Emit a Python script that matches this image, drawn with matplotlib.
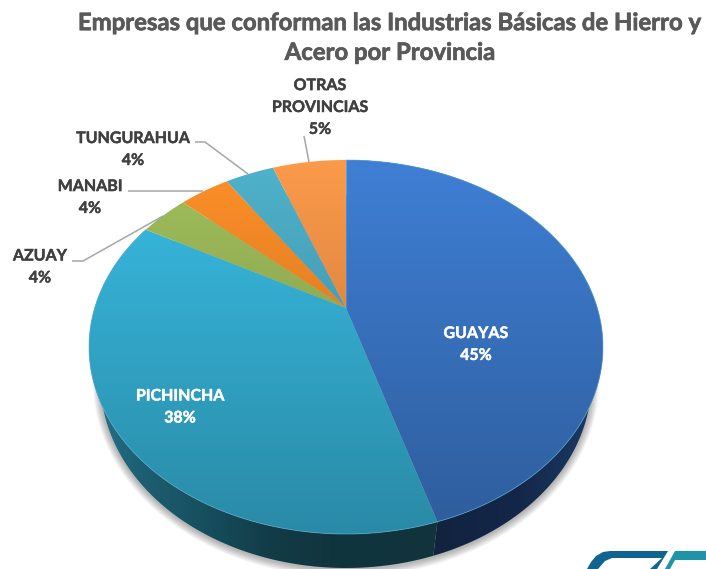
import matplotlib
matplotlib.use('agg')
import matplotlib.pyplot as plt
import matplotlib.patheffects as pe
from matplotlib.colors import to_rgb
from matplotlib.patches import Polygon
import numpy as np

plt.rcParams['font.family'] = ['Lato', 'DejaVu Sans']

# slices, clockwise from twelve o'clock; shares, labels as printed
provinces = ['GUAYAS', 'PICHINCHA', 'AZUAY', 'MANABI', 'TUNGURAHUA', 'OTRAS\nPROVINCIAS']
shares = [45.3, 37.7, 3.75, 3.85, 3.75, 5.65]
percent_labels = ['45%', '38%', '4%', '4%', '4%', '5%']
top_colors = ['#3F7FD5', '#39BDE4', '#A2C05C', '#FF9028', '#4FB2CC', '#FC9A4A']
title = 'Empresas que conforman las Industrias Básicas de Hierro y\nAcero por Provincia'

W, H = 706, 569
# ellipse of the rim in pixels, and how far the apex sits above its middle
cx, cy, rx, ry = 346, 347, 257, 187
apex_up = 39
depth = 34
low_scale = 0.955  # lower rim is further away


def project(theta):
    # perspective of the unit circle, so the apex is off the ellipse centre
    k = apex_up / ry
    u, v = np.cos(np.radians(theta)), np.sin(np.radians(theta))
    den = 1 + k * v
    a = rx * np.sqrt(1 - k ** 2)
    return cx + a * u / den, cy - (ry * v + apex_up) / den


def rim(t1, t2, n=200):
    return np.column_stack(project(np.linspace(t1, t2, n)))


def lower(pts):
    out = pts.copy()
    out[:, 0] = cx + (out[:, 0] - cx) * low_scale
    out[:, 1] = out[:, 1] + depth
    return out


fig = plt.figure(figsize=(W / 100, H / 100), dpi=100)
ax = fig.add_axes([0, 0, 1, 1])

# the pie gives the wedge angles, the drawing is done in perspective below
wedges, _ = ax.pie(shares, startangle=90, counterclock=False)
angles = [(w.theta1, w.theta2) for w in wedges]
for w in wedges:
    w.remove()
ax.set_aspect('auto')
ax.set_xlim(0, W)
ax.set_ylim(H, 0)
ax.axis('off')

# soft shadow under the wall
outline = lower(rim(0, 360, 400))
for grow in [8, 7, 6, 5, 4, 3, 2, 1]:
    pts = outline.copy()
    pts[:, 0] = cx + (pts[:, 0] - cx) * (1 + grow / rx)
    pts[:, 1] = cy + depth + (pts[:, 1] - cy - depth) * (1 + grow / ry) + 1
    ax.add_patch(Polygon(pts, closed=True, fc='black', ec='none', alpha=0.04, zorder=1))

xs = np.arange(W)
ys = np.arange(H)

# side wall, only the two front slices can be seen
wall_stops = {
    0: ([430, 520, 603], ['#12233F', '#14274A', '#1E3C68']),
    1: ([100, 140, 200, 270, 330, 440], ['#236F85', '#1D5F73', '#17505F', '#123C47', '#11353F', '#10333C']),
}
for i, (xp, cols) in wall_stops.items():
    t1, t2 = angles[i]
    arc = rim(t1, t2)
    poly = Polygon(np.vstack([arc, lower(arc)[::-1]]), closed=True, fc='none', ec='none', zorder=2)
    ax.add_patch(poly)
    rgb = np.array([to_rgb(c) for c in cols])
    grad = np.stack([np.interp(xs, xp, rgb[:, j]) for j in range(3)], axis=-1)[None, :, :]
    im = ax.imshow(grad, extent=(0, W, H, 0), aspect='auto', zorder=2, interpolation='bilinear')
    im.set_clip_path(poly)

# top face, every slice gets darker towards the front
shade = 1 - 0.27 * np.clip((ys + 0.5 - 160) / 374, 0, 1.1)
apex_xy = np.array([cx, cy - apex_up])
for (t1, t2), col in zip(angles, top_colors):
    poly = Polygon(np.vstack([apex_xy, rim(t1, t2)]), closed=True, fc='none', ec='none', zorder=3)
    ax.add_patch(poly)
    grad = shade[:, None, None] * np.array(to_rgb(col))[None, None, :]
    im = ax.imshow(grad, extent=(0, W, H, 0), aspect='auto', zorder=3, interpolation='bilinear')
    im.set_clip_path(poly)

# thin light lines along the front edges
for i in [0, 1]:
    t1, t2 = angles[i]
    arc = rim(t1, t2)
    ax.plot(arc[:, 0], arc[:, 1], color='#5FB4D8', lw=0.6, alpha=0.7, zorder=4)
t_split = angles[0][1]
split = rim(t_split, t_split, 1)
split_low = lower(split)
ax.plot([apex_xy[0], split[0, 0]], [apex_xy[1], split[0, 1]], color='#6FA8DC', lw=0.5, alpha=0.6, zorder=4)
ax.plot([split[0, 0], split_low[0, 0]], [split[0, 1], split_low[0, 1]], color='#5FB4D8', lw=0.6, alpha=0.7, zorder=4)

# leader lines
leaders = [
    [(72, 261), (83, 261), (163, 216)],
    [(128, 191), (203, 191)],
    [(195, 142), (205, 142), (248, 174)],
    [(304, 136), (309, 162)],
]
for line in leaders:
    px, py = zip(*line)
    ax.plot(px, py, color='#A6A6A6', lw=1.1, zorder=5, solid_capstyle='butt')

# data labels
label_pos = [(476, 345), (180, 407.5), (40, 267.5), (90, 198), (133, 150), (320, 108)]
label_colors = ['white', 'white', '#404040', '#404040', '#404040', '#404040']
for name, pct, (x, y), col in zip(provinces, percent_labels, label_pos, label_colors):
    t = ax.text(x, y, f'{name}\n{pct}', ha='center', va='center', fontsize=11.5,
                fontweight='bold', color=col, linespacing=1.72, zorder=6)
    t.set_path_effects([pe.withStroke(linewidth=0.3, foreground=col)])

t = ax.text(390, 37.5, title, ha='center', va='center', fontsize=17.2, fontweight='bold',
            color='#595959', linespacing=1.355, zorder=6)
t.set_path_effects([pe.withStroke(linewidth=0.5, foreground='#595959')])

# corner of the logo, cut by the image edge
ax.add_patch(Polygon([(587, 569), (591, 562), (596, 556), (603, 552), (610, 551), (668, 551), (657, 569),
                      (650, 569), (662, 558), (612, 558), (605, 561), (598, 569)],
                     closed=True, fc='#0F6490', ec='none', zorder=6))
ax.add_patch(Polygon([(675, 551), (706, 551), (706, 560), (675, 560), (670, 569), (665, 569)],
                     closed=True, fc='#1F94A8', ec='none', zorder=6))

fig.savefig('out.png', dpi=100)
